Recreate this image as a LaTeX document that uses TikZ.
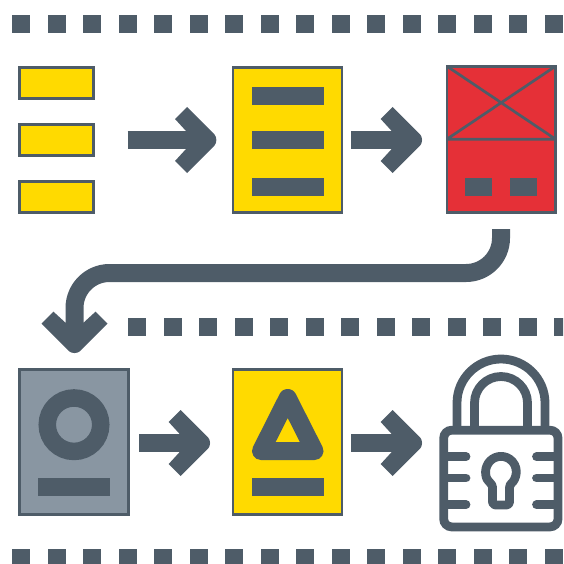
\documentclass[tikz,border=0pt]{standalone}
\definecolor{ink}{HTML}{4E5C68}
\definecolor{sun}{HTML}{FFDA00}
\definecolor{brick}{HTML}{E53037}
\definecolor{slate}{HTML}{8996A2}
\tikzset{
  boxnode/.style={draw=ink,line width=2.7pt,inner sep=0pt,outer sep=0pt,rectangle},
  yellowcard/.style={boxnode,fill=sun,minimum width=109pt,minimum height=145pt},
  tag/.style={boxnode,fill=sun,minimum width=73.6pt,minimum height=30.8pt},
  barnode/.style={fill=ink,inner sep=0pt,outer sep=0pt,rectangle,minimum width=72pt,minimum height=18pt},
  keynode/.style={fill=ink,inner sep=0pt,outer sep=0pt,rectangle,minimum width=27pt,minimum height=18pt},
  dot/.style={fill=ink,inner sep=0pt,outer sep=0pt,rectangle,minimum size=18pt},
  flow/.style={ink,line width=18pt,shorten >=25pt},
  lockline/.style={ink,line width=8.8pt},
  chevron/.pic={\fill[ink] (-30,-33) -- (-2.6,-5.6) .. controls (0,-3) and (0,3) .. (-2.6,5.6) -- (-30,33) -- (-42,21) -- (-31,9) -- (-31,-9) -- (-42,-21) -- cycle;}
}
\begin{document}
\begin{tikzpicture}[x=1pt,y=-1pt]
\useasboundingbox (0,0) rectangle (563,564);
\clip (0,0) rectangle (563,564);
% dotted separators
\foreach \i in {0,...,15}{
  \node[dot] (top\i) at ({21+35.53*\i},24) {};
  \node[dot] (bot\i) at ({21+35.53*\i},558) {};
}
\foreach \i in {0,...,12}{
  \node[dot] (mid\i) at ({137+35.5*\i},327) {};
}
% first row
\node[tag] (s1) at (56.5,83) {};
\node[tag] (s2) at (56.5,140) {};
\node[tag] (s3) at (56.5,197) {};
\node[yellowcard] (doc) at (287.6,140) {};
\node[barnode] (docA) at (288,96) {};
\node[barnode] (docB) at (288,140) {};
\node[barnode] (docC) at (288,187) {};
\node[boxnode,fill=brick,minimum width=108.7pt,minimum height=146pt] (red) at (501.2,139.2) {};
\draw[ink,line width=2.7pt] (red.north west) -- (red.east) (red.north east) -- (red.west) (red.west) -- (red.east);
\node[keynode] (redA) at (478.5,187) {};
\node[keynode] (redB) at (523.5,187) {};
% second row
\node[boxnode,fill=slate,minimum width=109pt,minimum height=145pt] (grey) at (74.2,442.2) {};
\node[circle,draw=ink,line width=17.5pt,inner sep=0pt,minimum size=53.5pt,fill=slate] (disc) at (74,424.7) {};
\node[barnode] (greyBar) at (74,487) {};
\node[yellowcard] (doc2) at (287.6,442.2) {};
\node[barnode] (doc2Bar) at (288,487) {};
\draw[ink,fill=sun,line width=18pt,line join=round] (287.7,398) -- (314.5,451) -- (261,451) -- cycle;
% arrows
\coordinate (a1s) at (127.5,140); \coordinate (a1t) at (217,140);
\coordinate (a2s) at (351.3,140); \coordinate (a2t) at (422.7,140);
\coordinate (a3s) at (139.3,443); \coordinate (a3t) at (210.7,443);
\coordinate (a4s) at (351.3,443); \coordinate (a4t) at (422.7,443);
\coordinate (bs) at (501,229); \coordinate (bt) at (74.5,353.7);
\foreach \n in {a1,a2,a3,a4}{
  \draw[flow] (\n s) -- (\n t);
  \pic at (\n t) {chevron};
}
\draw[flow,rounded corners=35pt] (bs) -- (bs |- 0,273) -- (bt |- 0,273) -- (bt);
\pic[rotate=-90] at (bt) {chevron};
% padlock
\draw[lockline] (457,432) -- (457,403) arc[start angle=180,end angle=360,radius=44] -- (545,432);
\draw[lockline] (474.5,432) -- (474.5,403) arc[start angle=180,end angle=360,radius=26.5] -- (527.5,432);
\draw[lockline,rounded corners=8pt] (443.7,430.2) rectangle (558,526.9);
\foreach \y in {456.7,478,504.7}{
  \draw[lockline] (446,\y) -- (466,\y);
  \draw[lockline,line cap=round] (448,\y) -- (466,\y);
  \draw[lockline,line cap=round] (536.5,\y) -- (554,\y);
  \draw[lockline] (536.5,\y) -- (556,\y);
}
\draw[lockline,line join=round,rounded corners=3pt] (492.5,484.4) arc[start angle=123.8,end angle=416.2,radius=15.3] -- (509.5,505) -- (492.5,505) -- cycle;
\end{tikzpicture}
\end{document}
